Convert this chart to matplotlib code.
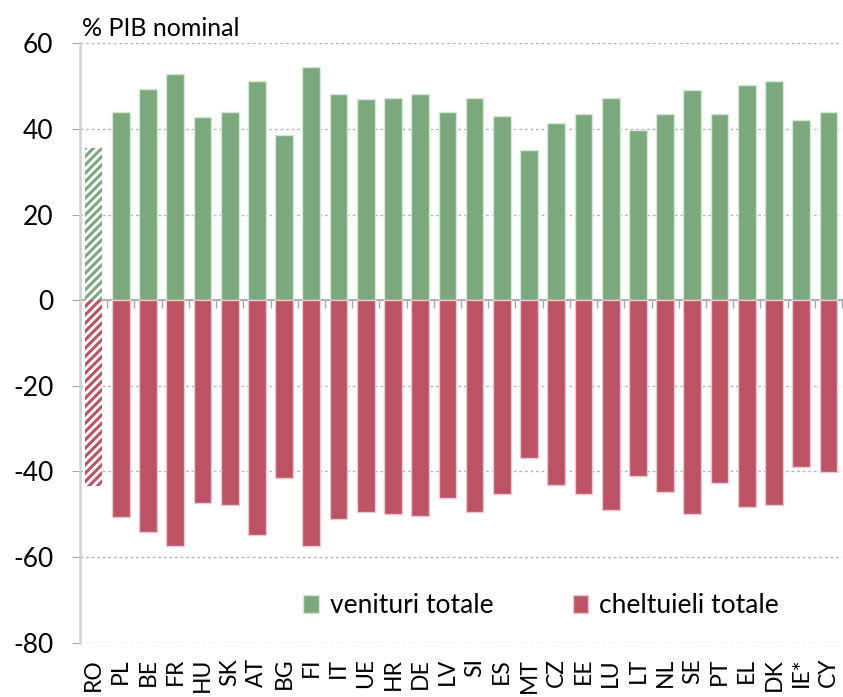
import numpy as np
import matplotlib.pyplot as plt

countries = ["RO", "PL", "BE", "FR", "HU", "SK", "AT", "BG", "FI", "IT", "UE", "HR", "DE", "LV",
             "SI", "ES", "MT", "CZ", "EE", "LU", "LT", "NL", "SE", "PT", "EL", "DK", "IE*", "CY"]
venituri = [35.5, 43.9, 49.4, 52.8, 42.7, 43.9, 51.1, 38.5, 54.4, 48.1, 46.9, 47.3, 48.1, 43.9,
            47.3, 43.1, 35.1, 41.4, 43.5, 47.3, 39.7, 43.5, 49.0, 43.5, 50.2, 51.1, 42.2, 43.9]
cheltuieli = [-43.3, -50.7, -54.1, -57.5, -47.4, -47.8, -54.9, -41.5, -57.5, -51.2, -49.5, -49.9, -50.3, -46.1,
              -49.5, -45.3, -36.8, -43.2, -45.3, -49.1, -41.1, -44.9, -49.9, -42.8, -48.2, -47.8, -38.9, -40.2]
hatched = ["RO"]

green = "#7ba87c"
red = "#bb5365"
gray = "#a6a6a6"

plt.rcParams["font.family"] = ["Lato", "DejaVu Sans"]
plt.rcParams["hatch.linewidth"] = 2.2
plt.rcParams["axes.unicode_minus"] = False

fig = plt.figure(figsize=(8.43, 6.97), dpi=100)
ax = fig.add_axes([80 / 843, 1 - 642.7 / 697, 762 / 843, 599.4 / 697])

x = np.arange(len(countries))
solid = np.array([c not in hatched for c in countries])
ven = np.array(venituri)
chel = np.array(cheltuieli)

ax.bar(x[solid], ven[solid], width=0.65, color=green, edgecolor="#d6e6d6", linewidth=1,
       label="venituri totale", zorder=2)
ax.bar(x[solid], chel[solid], width=0.65, color=red, edgecolor="#ecc6cd", linewidth=1,
       label="cheltuieli totale", zorder=2)
ax.bar(x[~solid], ven[~solid], width=0.65, color="white", edgecolor=green, hatch="////",
       linewidth=0, zorder=2)
ax.bar(x[~solid], chel[~solid], width=0.65, color="white", edgecolor=red, hatch="////",
       linewidth=0, zorder=2)

ax.set_xlim(-0.5, len(countries) - 0.5)
ax.set_ylim(-80, 60)
ax.set_yticks(np.arange(-80, 61, 20))
ax.grid(axis="y", linestyle=(0, (2, 2)), color="#b4b4b4", linewidth=1, zorder=0)
ax.set_axisbelow(True)

for s in ["top", "right", "bottom"]:
    ax.spines[s].set_visible(False)
ax.spines["left"].set_color("#d0d0d0")
ax.spines["left"].set_linewidth(1.8)

ax.tick_params(axis="y", length=6, color=gray, pad=13, labelsize=19)
ax.set_xticks(x)
ax.set_xticklabels(countries, rotation=90, fontsize=16.5)
ax.tick_params(axis="x", length=0, pad=11)

# zero line with category separators
sec = ax.secondary_xaxis(80 / 140)
sec.set_alignment("bottom")
sec.set_xticks(np.arange(-0.5, len(countries)))
sec.tick_params(length=6, color=gray, width=1, labelbottom=False, labeltop=False)
sec.spines["bottom"].set_color(gray)
sec.spines["bottom"].set_linewidth(1.3)

ax.legend(loc="center", bbox_to_anchor=(0.605, 0.062), ncol=2, frameon=False, fontsize=19,
          handlelength=0.6, handleheight=0.65, handletextpad=0.4, columnspacing=3.0)

fig.text(82 / 843, 1 - 36 / 697, "% PIB nominal", fontsize=18, va="baseline", ha="left")

fig.savefig("out.png", dpi=100)
